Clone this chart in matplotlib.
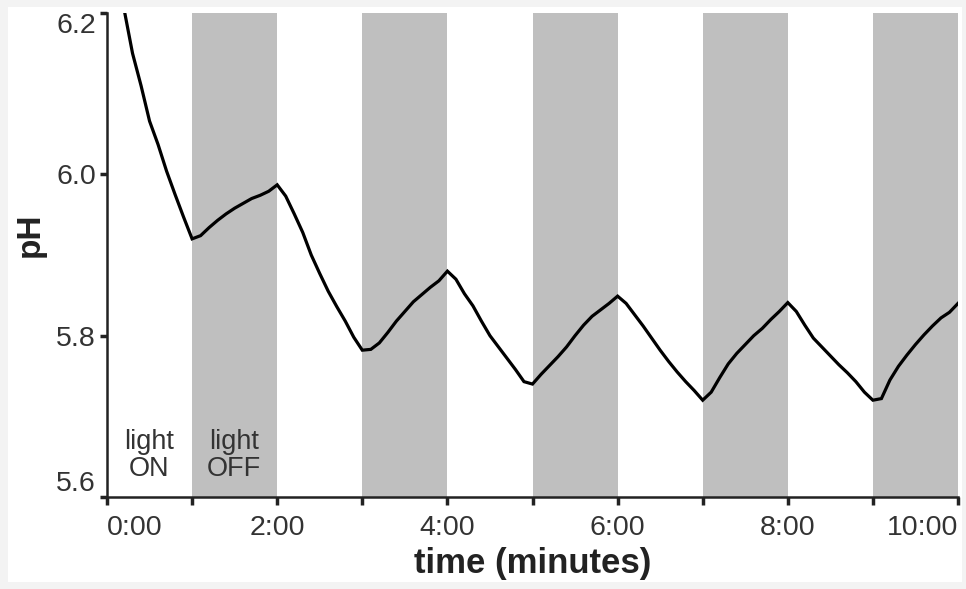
import matplotlib
matplotlib.use("Agg")
import matplotlib.pyplot as plt
from matplotlib.patches import Rectangle
from matplotlib.ticker import MultipleLocator

plt.rcParams['font.family'] = ['Liberation Sans', 'DejaVu Sans']

# time in minutes, read every 0.1 min off the trace
time_min = [round(i * 0.1, 1) for i in range(101)]
ph = [
    6.320, 6.260, 6.205, 6.150, 6.110, 6.066, 6.037, 6.004, 5.975, 5.947,
    5.920, 5.924, 5.934, 5.943, 5.951, 5.958, 5.964, 5.970, 5.974, 5.979,
    5.987, 5.973, 5.951, 5.928, 5.900, 5.877, 5.855, 5.836, 5.818, 5.798,
    5.782, 5.783, 5.791, 5.804, 5.818, 5.830, 5.842, 5.851, 5.860, 5.868,
    5.880, 5.870, 5.852, 5.837, 5.818, 5.800, 5.786, 5.772, 5.758, 5.743,
    5.740, 5.752, 5.763, 5.774, 5.786, 5.800, 5.813, 5.824, 5.832, 5.840,
    5.849, 5.840, 5.826, 5.812, 5.797, 5.782, 5.768, 5.755, 5.743, 5.732,
    5.720, 5.730, 5.748, 5.765, 5.778, 5.789, 5.800, 5.809, 5.820, 5.830,
    5.841, 5.830, 5.813, 5.797, 5.786, 5.775, 5.764, 5.754, 5.743, 5.730,
    5.720, 5.722, 5.745, 5.762, 5.776, 5.789, 5.801, 5.812, 5.822, 5.829,
    5.840,
]

# light-off periods (start, end) in minutes
dark_periods = [(1, 2), (3, 4), (5, 6), (7, 8), (9, 10)]

x_ticks = [0, 2, 4, 6, 8, 10]
x_tick_labels = ["0:00", "2:00", "4:00", "6:00", "8:00", "10:00"]
y_ticks = [5.6, 5.8, 6.0, 6.2]

fig = plt.figure(figsize=(9.66, 5.89), dpi=100, facecolor="#f3f3f3")
# white card inside a thin grey frame
card = Rectangle((8 / 966, 7 / 589), 954 / 966, 575 / 589,
                 transform=fig.transFigure, facecolor="white",
                 edgecolor="none", zorder=-10)
fig.patches.append(card)

ax = fig.add_axes([107 / 966, 1 - 497 / 589, 851 / 966, 484 / 589])
ax.set_zorder(5)
ax.set_facecolor("none")

for start, end in dark_periods:
    ax.axvspan(start, end, facecolor="#bfbfbf", edgecolor="none", zorder=0)

ax.plot(time_min, ph, color="black", lw=2.3, solid_joinstyle="miter", zorder=2)

ax.set_xlim(0, 10)
ax.set_ylim(5.6, 6.2)
ax.set_xticks(x_ticks)
ax.set_xticklabels(x_tick_labels)
ax.xaxis.set_minor_locator(MultipleLocator(1))
ax.set_yticks(y_ticks)
ax.set_yticklabels([f"{v:.1f}" for v in y_ticks])

# end labels are pulled inward so they stay inside the axis span
xlabs = ax.get_xticklabels()
xlabs[0].set_horizontalalignment("left")
xlabs[-1].set_horizontalalignment("right")
ylabs = ax.get_yticklabels()
ylabs[0].set_verticalalignment("bottom")
ylabs[-1].set_verticalalignment("top")

for side in ("top", "right"):
    ax.spines[side].set_visible(False)
for side in ("left", "bottom"):
    ax.spines[side].set_color("#222222")
    ax.spines[side].set_linewidth(1.8)

ax.tick_params(axis="both", which="both", length=6, width=2.5, color="#222222",
               labelsize=20.5, labelcolor="#333333")
ax.tick_params(axis="x", pad=7)
ax.tick_params(axis="y", length=5, pad=3)

ax.set_xlabel("time (minutes)", fontsize=25, fontweight="bold", color="#222222")
ax.xaxis.set_label_coords(0.5, -0.103)
ax.set_ylabel("pH", fontsize=24, fontweight="bold", color="#222222")
ax.yaxis.set_label_coords(-0.072, 0.541)

ax.text(0.49, 5.652, "light\nON", ha="center", va="center", fontsize=19.5,
        color="#333333", linespacing=1.05)
ax.text(1.49, 5.652, "light\nOFF", ha="center", va="center", fontsize=19.5,
        color="#333333", linespacing=1.05)

fig.savefig("out.png", dpi=100, facecolor=fig.get_facecolor())
